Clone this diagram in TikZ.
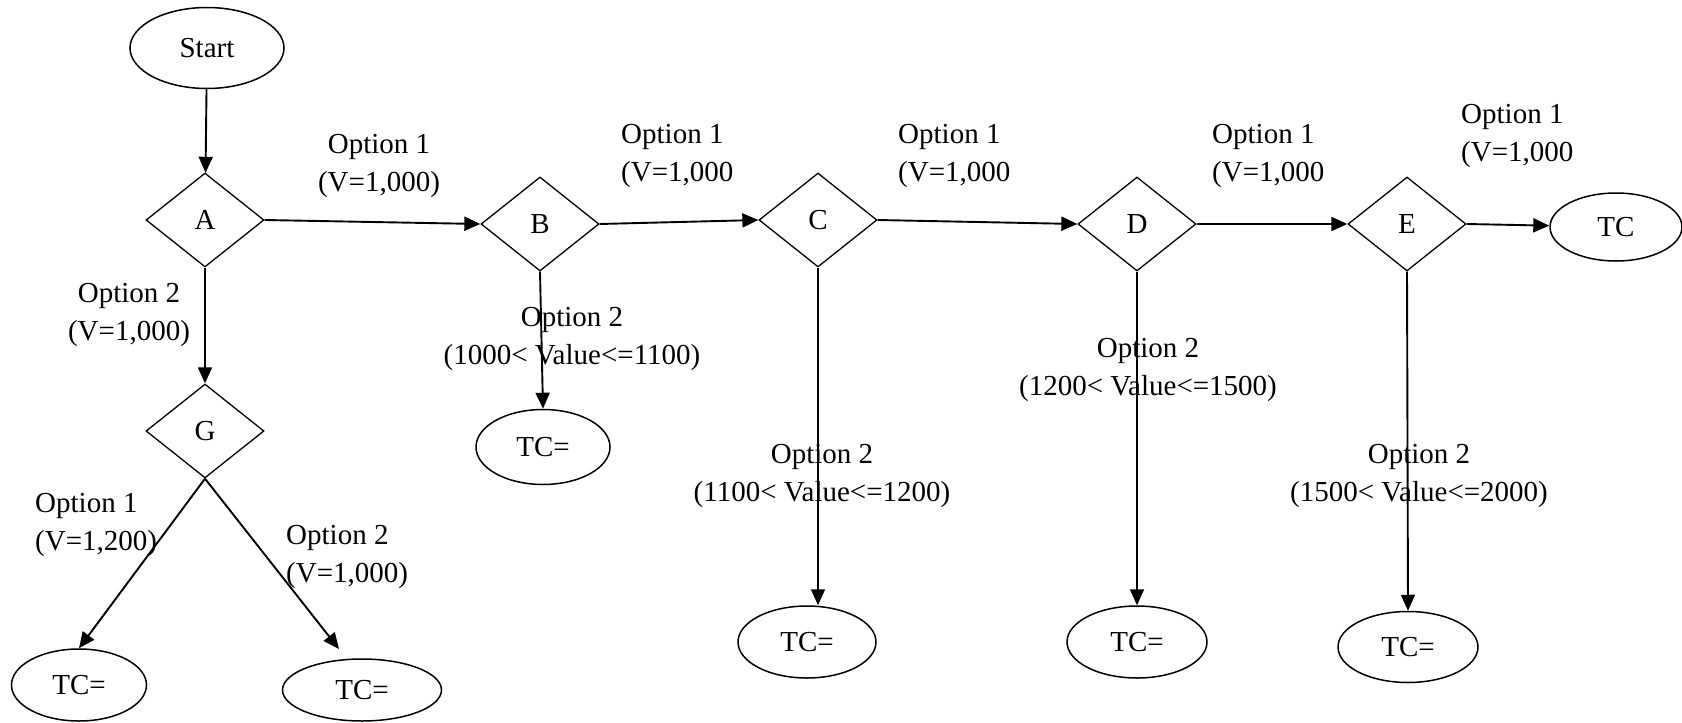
\documentclass[tikz,border=0pt]{standalone}
\usepackage{fontspec}
\setmainfont{Liberation Serif}
\usetikzlibrary{shapes.geometric,arrows.meta}
\begin{document}
\begin{tikzpicture}[x=1pt,y=-1pt,
  every node/.style={font=\fontsize{29}{38}\selectfont, inner sep=0pt},
  dia/.style={diamond, draw, line width=1.3pt, minimum width=118pt, minimum height=94pt},
  oval/.style={ellipse, draw, line width=1.5pt},
  conn/.style={line width=1.9pt, -{Triangle[length=16pt,width=14pt]}},
  lbl/.style={align=center},
  lbll/.style={align=left, anchor=west}]
\useasboundingbox (0,0) rectangle (1682,723);
% nodes
\node[oval, minimum width=154pt, minimum height=81pt] (start) at (207,48) {Start};
\node[dia] (A) at (205,220) {A};
\node[dia] (G) at (205,431) {G};
\node[dia] (B) at (540,224) {B};
\node[dia] (C) at (818,220) {C};
\node[dia] (D) at (1137,224) {D};
\node[dia] (E) at (1407,224) {E};
\node[oval, minimum width=132pt, minimum height=68pt] (tc) at (1616,227) {TC};
\node[oval, minimum width=134pt, minimum height=75pt] (tcb) at (543,447) {TC=};
\node[oval, minimum width=138pt, minimum height=72pt] (tcc) at (807,642) {TC=};
\node[oval, minimum width=140pt, minimum height=72pt] (tcd) at (1137,642) {TC=};
\node[oval, minimum width=140pt, minimum height=71pt] (tce) at (1408,647) {TC=};
\node[oval, minimum width=135pt, minimum height=72pt] (tcg1) at (79,685) {TC=};
\node[oval, minimum width=159pt, minimum height=62pt] (tcg2) at (362,690) {TC=};
\coordinate (g2end) at (339,649);
% connectors
\draw[conn] (start) -- (A);
\draw[conn] (A.east) -- (B.west);
\draw[conn] (B.east) -- (C.west);
\draw[conn] (C.east) -- (D.west);
\draw[conn] (D.east) -- (E.west);
\draw[conn] (E.east) -- (tc);
\draw[conn] (A) -- (G);
\draw[conn] (B.south) -- (tcb.north);
\draw[conn] (C.south) -- (C.south |- tcc.north);
\draw[conn] (D.south) -- (tcd.north);
\draw[conn] (E.south) -- (tce.north);
\draw[conn] (G.south) -- (tcg1.north);
\draw[conn] (G.south) -- (g2end);
% labels
\node[lbl] (lab1) at (379,166) {Option 1\\(V=1,000)};
\node[lbl] (lag) at (129,315) {Option 2\\(V=1,000)};
\node[lbll] (lbc) at (621,156) {Option 1\\(V=1,000};
\node[lbll] (lcd) at (898,156) {Option 1\\(V=1,000};
\node[lbll] (lde) at (1212,156) {Option 1\\(V=1,000};
\node[lbll] (letc) at (1461,136) {Option 1\\(V=1,000};
\node[lbl] (lb2) at (572,339) {Option 2\\(1000{<} Value{<}=1100)};
\node[lbl] (lc2) at (822,476) {Option 2\\(1100{<} Value{<}=1200)};
\node[lbl] (ld2) at (1148,370) {Option 2\\(1200{<} Value{<}=1500)};
\node[lbl] (le2) at (1419,476) {Option 2\\(1500{<} Value{<}=2000)};
\node[lbll] (lg1) at (35,525) {Option 1\\(V=1,200)};
\node[lbll] (lg2) at (286,557) {Option 2\\(V=1,000)};
\end{tikzpicture}
\end{document}
